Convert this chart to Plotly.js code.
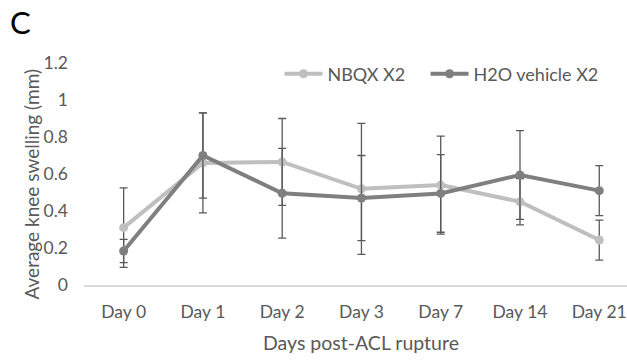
<!DOCTYPE html>
<html><head><meta charset="utf-8">
<script src="https://cdn.plot.ly/plotly-3.0.1.min.js"></script>
<style>html,body{margin:0;padding:0;background:#fff}#chart{width:627px;height:360px}</style>
</head><body><div id="chart"></div>
<script>
const categories = ["Day 0","Day 1","Day 2","Day 3","Day 7","Day 14","Day 21"];
const nbqx = [0.31, 0.66, 0.665, 0.52, 0.54, 0.45, 0.243];
const nbqxErr = [0.215, 0.27, 0.235, 0.354, 0.265, 0.125, 0.108];
const h2o = [0.184, 0.70, 0.496, 0.47, 0.495, 0.595, 0.51];
const h2oErr = [0.063, 0.23, 0.243, 0.23, 0.21, 0.24, 0.135];
const yTicks = [0, 0.2, 0.4, 0.6, 0.8, 1, 1.2];
const yTickText = ["0","0.2","0.4","0.6","0.8","1","1.2"];

const errStyle = {type:'data', visible:true, color:'#595959', thickness:1.3, width:4};
const traces = [
  {x:categories, y:nbqx, name:'NBQX X2', type:'scatter', mode:'lines+markers',
   line:{color:'#bfbfbf', width:4}, marker:{color:'#bfbfbf', size:9},
   error_y:Object.assign({array:nbqxErr}, errStyle), cliponaxis:false, legend:'legend'},
  {x:categories, y:h2o, name:'H2O vehicle X2', type:'scatter', mode:'lines+markers',
   line:{color:'#7f7f7f', width:4}, marker:{color:'#7f7f7f', size:9},
   error_y:Object.assign({array:h2oErr}, errStyle), cliponaxis:false, legend:'legend2'}
];
const font = {family:'Lato, "Open Sans", sans-serif', color:'#595959'};
const legendBase = {orientation:'h', xanchor:'left', y:0.95, yanchor:'middle',
    font:Object.assign({size:18}, font), itemwidth:38, bgcolor:'rgba(0,0,0,0)'};
const layout = {
  width:627, height:360,
  margin:{l:84, r:0, t:63, b:75},
  paper_bgcolor:'#fff', plot_bgcolor:'#fff',
  font:Object.assign({size:14}, font),
  showlegend:true,
  legend:Object.assign({x:0.36}, legendBase),
  legend2:Object.assign({x:0.629}, legendBase),
  xaxis:{type:'category', range:[-0.5, 6.35], showline:true, linecolor:'#d9d9d9', linewidth:1.5,
    showgrid:false, zeroline:false, ticks:'', tickfont:Object.assign({size:17.5}, font),
    ticklabelstandoff:10},
  yaxis:{range:[0,1.2], tickvals:yTicks, ticktext:yTickText, showline:false, showgrid:false,
    zeroline:false, ticks:'', tickfont:Object.assign({size:17.5}, font), ticklabelstandoff:15},
  annotations:[
    {text:'C', xref:'paper', yref:'paper', x:0, y:1, xanchor:'left', yanchor:'top',
     showarrow:false, font:{family:'Lato, sans-serif', size:31, color:'#000'},
     xshift:-76, yshift:62},
    {text:'Average knee swelling (mm)', xref:'paper', yref:'paper', x:-0.0958, y:0.457,
     xanchor:'center', yanchor:'middle', textangle:-90, showarrow:false,
     font:Object.assign({size:19}, font)},
    {text:'Days post-ACL rupture', xref:'paper', yref:'paper', x:0.510, y:-0.257,
     xanchor:'center', yanchor:'middle', showarrow:false,
     font:Object.assign({size:19.5}, font)}
  ]
};
Plotly.newPlot('chart', traces, layout, {displayModeBar:false, staticPlot:true});
</script></body></html>
